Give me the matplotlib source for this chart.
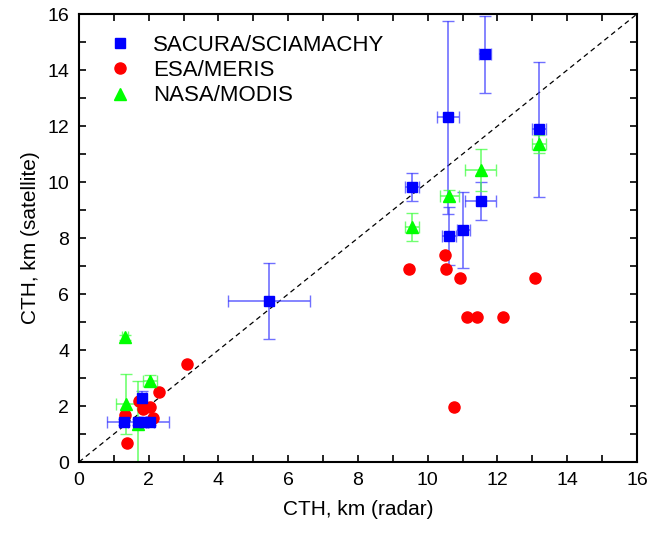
import numpy as np
import matplotlib.pyplot as plt

plt.rcParams['font.family'] = ['Liberation Sans', 'DejaVu Sans']

# SACURA/SCIAMACHY
sac_x = [5.45, 11.64, 10.59, 11.02, 11.52, 13.19, 9.54, 10.62, 1.29, 1.70, 1.85, 2.04, 1.80]
sac_y = [5.75, 14.56, 12.31, 8.29, 9.33, 11.88, 9.83, 8.08, 1.42, 1.42, 1.42, 1.42, 2.27]
sac_xerr = [1.18, 0.16, 0.32, 0.19, 0.45, 0.19, 0.2, 0.2, 0.12, 0.89, 0.12, 0.12, 0.12]
sac_yerr = [1.36, 1.37, 3.45, 1.35, 0.67, 2.42, 0.5, 1.04, 0.1, 0.1, 0.1, 0.1, 0.25]

# ESA/MERIS
esa_x = [9.45, 10.49, 10.52, 10.92, 13.07, 11.14, 11.42, 12.17, 10.75,
         3.09, 2.29, 1.73, 2.04, 1.84, 2.13, 1.32, 1.37]
esa_y = [6.88, 7.39, 6.88, 6.58, 6.58, 5.18, 5.18, 5.18, 1.96,
         3.49, 2.49, 2.18, 1.95, 1.88, 1.58, 1.68, 0.67]

# NASA/MODIS
nasa_x = [9.54, 10.62, 11.52, 13.19, 1.32, 2.04, 1.35, 1.70]
nasa_y = [8.38, 9.51, 10.43, 11.36, 4.45, 2.90, 2.07, 1.36]
nasa_xerr = [0.2, 0.27, 0.45, 0.19, 0.08, 0.2, 0.3, 0.1]
nasa_yerr = [0.5, 0.2, 0.75, 0.32, 0.08, 0.2, 1.06, 1.53]

fig = plt.figure(figsize=(6.49, 5.33), dpi=100)
ax = fig.add_axes([0.1217, 0.1332, 0.8598, 0.8405])

ax.plot([0, 16], [0, 16], color='black', ls=(0, (4, 3)), lw=0.9, zorder=1)

ax.errorbar(sac_x, sac_y, xerr=sac_xerr, yerr=sac_yerr, fmt='none',
            ecolor=(0.25, 0.25, 1.0, 0.75), elinewidth=1.2, capsize=4, zorder=2)
ax.errorbar(nasa_x, nasa_y, xerr=nasa_xerr, yerr=nasa_yerr, fmt='none',
            ecolor=(0.3, 1.0, 0.3, 0.8), elinewidth=1.2, capsize=4, zorder=2)

ax.plot(sac_x, sac_y, 's', color='#0000ff', ms=7, ls='none',
        label='SACURA/SCIAMACHY', zorder=4)
ax.plot(esa_x, esa_y, 'o', color='#ff0000', ms=8, ls='none',
        label='ESA/MERIS', zorder=3)
ax.plot(nasa_x, nasa_y, '^', color='#00ff00', ms=8.5, ls='none',
        label='NASA/MODIS', zorder=3)

ax.set_xlim(0, 16)
ax.set_ylim(0, 16)
ax.set_xticks(np.arange(0, 17, 2))
ax.set_yticks(np.arange(0, 17, 2))
ax.set_xticks(np.arange(0, 17, 1), minor=True)
ax.set_yticks(np.arange(0, 17, 1), minor=True)
ax.tick_params(which='both', direction='in', top=True, right=True,
               length=5, width=1.2, labelsize=14, pad=7)
for s in ax.spines.values():
    s.set_linewidth(1.5)

ax.set_xlabel('CTH, km (radar)', fontsize=15, labelpad=8)
ax.set_ylabel('CTH, km (satellite)', fontsize=15, labelpad=5)

ax.legend(loc='upper left', frameon=False, fontsize=16, handletextpad=0.5,
          borderaxespad=0.2, labelspacing=0.2, bbox_to_anchor=(0.009, 0.984))

fig.savefig('out.png', dpi=100)
